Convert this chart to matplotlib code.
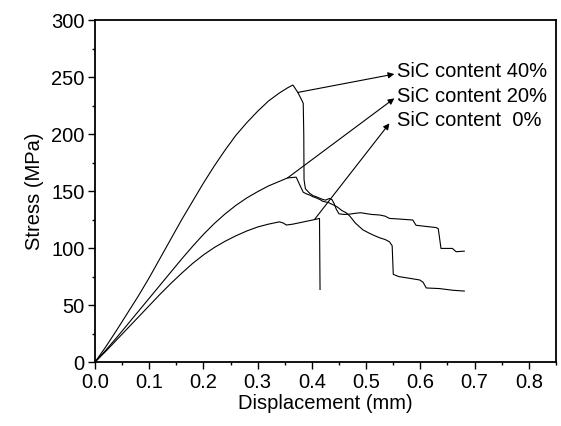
import numpy as np
import matplotlib
matplotlib.use("Agg")
import matplotlib.pyplot as plt

plt.rcParams['font.family'] = ['Liberation Sans', 'DejaVu Sans']

# SiC content 40 %
x40 = [0, 0.02, 0.04, 0.06, 0.08, 0.10, 0.12, 0.14, 0.16, 0.18, 0.20, 0.22, 0.24,
       0.26, 0.28, 0.30, 0.32, 0.34, 0.355, 0.365, 0.374, 0.381, 0.384, 0.385, 0.3855,
       0.388, 0.396, 0.402, 0.408, 0.418, 0.425, 0.432, 0.437, 0.441, 0.445, 0.45, 0.46,
       0.47, 0.48, 0.49, 0.5, 0.51, 0.525, 0.535, 0.543, 0.56, 0.586, 0.592, 0.61, 0.629,
       0.633, 0.638, 0.659, 0.666, 0.681]
y40 = [0, 13.5, 28, 43, 58, 74, 91, 108, 125, 141, 157, 172, 186,
       199, 210, 220, 229, 236, 240.5, 243, 236.5, 230, 227, 200, 160,
       152, 148, 146, 145, 143, 142, 143.5, 142.5, 139, 134, 130, 129.5,
       129.8, 130.5, 131, 130.2, 129.5, 129, 128, 126, 125.5, 124.6, 120, 119, 118,
       117, 99.7, 99.7, 96.8, 97.3]

# SiC content 20 %
x20 = [0, 0.02, 0.04, 0.06, 0.08, 0.10, 0.12, 0.14, 0.16, 0.18, 0.20, 0.22, 0.24,
       0.26, 0.28, 0.30, 0.32, 0.34, 0.355, 0.371, 0.378, 0.384, 0.39, 0.396, 0.402,
       0.408, 0.415, 0.42, 0.43, 0.439, 0.447, 0.455, 0.463, 0.47, 0.48, 0.494, 0.506,
       0.515, 0.525, 0.535, 0.543, 0.548, 0.55, 0.56, 0.58, 0.599, 0.605, 0.611, 0.635,
       0.66, 0.681]
y20 = [0, 10.5, 21.5, 33, 44.5, 56, 67.5, 79, 90.5, 101.5, 112, 121.5, 130,
       137.5, 144, 149.5, 154.5, 158.5, 161.5, 162.2, 155, 149, 147.5, 146.5, 145,
       144, 142.5, 141, 140, 138, 136, 133, 131, 128, 122, 116, 113,
       111, 109, 107.5, 105.5, 102, 77, 75, 73.5, 72, 70, 65, 64.5,
       63, 62.3]

# SiC content 0 %
x0 = [0, 0.02, 0.04, 0.06, 0.08, 0.10, 0.12, 0.14, 0.16, 0.18, 0.20, 0.22, 0.24,
      0.26, 0.28, 0.30, 0.32, 0.34, 0.347, 0.353, 0.365, 0.38, 0.395, 0.405, 0.414, 0.415]
y0 = [0, 9.5, 19.5, 29.5, 39.5, 49.5, 59.5, 69, 78, 86.5, 94, 100.5, 106,
      110.8, 115, 118.5, 121, 123, 122, 120.2, 121, 122.5, 124, 125, 126, 63.7]

labels = ['SiC content 40%', 'SiC content 20%', 'SiC content  0%']
arrow_from = [(0.374, 236.5), (0.355, 161.5), (0.405, 125.2)]
arrow_to = [(0.552, 252.6), (0.552, 231.3), (0.543, 209.4)]
label_y = [254.7, 232.7, 212.3]

fig = plt.figure(figsize=(5.61, 4.26), dpi=100)
ax = fig.add_axes([0.1693, 0.150, 0.8217, 0.803])

for xs, ys in [(x40, y40), (x20, y20), (x0, y0)]:
    ax.plot(xs, ys, color='k', lw=0.8)

for lab, p0, p1, ly in zip(labels, arrow_from, arrow_to, label_y):
    ax.annotate('', xy=p1, xytext=p0,
                arrowprops=dict(arrowstyle='-|>', color='k', lw=0.8,
                                mutation_scale=9, shrinkA=0, shrinkB=0))
    ax.text(0.556, ly, lab, fontsize=14.5, va='center', ha='left')

ax.set_xlim(0, 0.85)
ax.set_ylim(0, 300)
ax.set_xticks(np.arange(0, 0.81, 0.1))
ax.set_xticklabels(['%.1f' % v for v in np.arange(0, 0.81, 0.1)])
ax.set_xticks(np.arange(0.05, 0.86, 0.1), minor=True)
ax.set_yticks(np.arange(0, 301, 50))
ax.set_yticks(np.arange(25, 300, 50), minor=True)
ax.tick_params(which='both', direction='out', top=False, right=False,
               labelsize=14.5, width=1.0)
ax.tick_params(which='major', length=5, pad=2.5)
ax.tick_params(which='minor', length=2.5)
for s in ax.spines.values():
    s.set_linewidth(1.3)

ax.set_xlabel('Displacement (mm)', fontsize=14.5, labelpad=2)
ax.set_ylabel('Stress (MPa)', fontsize=14.5, labelpad=5)

fig.savefig('out.png', dpi=100)
